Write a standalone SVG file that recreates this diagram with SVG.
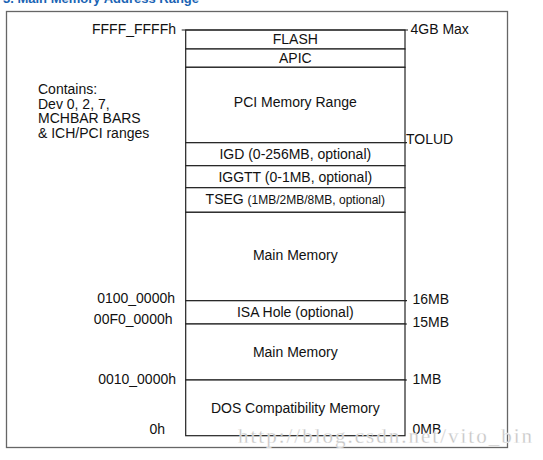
<svg xmlns="http://www.w3.org/2000/svg" width="543" height="460" viewBox="0 0 543 460">
<style>
.t{font-family:"Liberation Sans",Arial,sans-serif;font-size:14px;fill:#111}
.c{text-anchor:middle}
.r{text-anchor:end}
.box{fill:#fff;stroke:#222;stroke-width:1.2}
.ln{stroke:#222;stroke-width:1.2;fill:none}
.frame{fill:#fff;stroke:#666;stroke-width:1.3}
</style>
<rect width="543" height="460" fill="#fff"/>
<text x="3" y="2.5" style="font-family:'Liberation Sans',Arial,sans-serif;font-size:13px;font-weight:bold;fill:#1a64b4">3. Main Memory Address Range</text>
<rect class="frame" x="6.5" y="11.5" width="501" height="436"/>
<g id="left-labels">
<text class="t r" x="176" y="34">FFFF_FFFFh</text>
<text class="t" x="38" y="94">Contains:</text>
<text class="t" x="38" y="108.5">Dev 0, 2, 7,</text>
<text class="t" x="38" y="123">MCHBAR BARS</text>
<text class="t" x="38" y="137.5">&amp; ICH/PCI ranges</text>
<text class="t r" x="175" y="303">0100_0000h</text>
<text class="t r" x="172.5" y="323.5">00F0_0000h</text>
<text class="t r" x="176" y="383.5">0010_0000h</text>
<text class="t r" x="165" y="433.5">0h</text>
</g>
<g id="right-labels">
<text class="t" x="410.5" y="34">4GB Max</text>
<text class="t" x="406" y="144">TOLUD</text>
<text class="t" x="412.5" y="304">16MB</text>
<text class="t" x="412.5" y="327">15MB</text>
<text class="t" x="412.5" y="383.5">1MB</text>
<text class="t" x="412.5" y="433.5">0MB</text>
</g>
<g id="flash"><rect class="box" x="185.7" y="30" width="219.3" height="19"/><text class="t c" x="295.3" y="44">FLASH</text></g>
<g id="apic"><rect class="box" x="185.7" y="49" width="219.3" height="18.3"/><text class="t c" x="295.3" y="62.5">APIC</text></g>
<g id="pci"><rect class="box" x="185.7" y="67.3" width="219.3" height="75.4"/><text class="t c" x="295.3" y="107">PCI Memory Range</text></g>
<g id="igd"><rect class="box" x="185.7" y="142.7" width="219.3" height="23"/><text class="t c" x="295.3" y="159.3">IGD (0-256MB, optional)</text></g>
<g id="iggtt"><rect class="box" x="185.7" y="165.7" width="219.3" height="22"/><text class="t c" x="295.3" y="181.5">IGGTT (0-1MB, optional)</text></g>
<g id="tseg"><rect class="box" x="185.7" y="187.7" width="219.3" height="24.6"/><text class="t c" x="295.3" y="204">TSEG <tspan style="font-size:12px">(1MB/2MB/8MB, optional)</tspan></text></g>
<g id="main-memory-high"><rect class="box" x="185.7" y="212.3" width="219.3" height="88.4"/><text class="t c" x="295.3" y="260">Main Memory</text></g>
<g id="isa-hole"><rect class="box" x="185.7" y="300.7" width="219.3" height="23.3"/><text class="t c" x="295.3" y="316.7">ISA Hole (optional)</text></g>
<g id="main-memory-low"><rect class="box" x="185.7" y="324" width="219.3" height="56"/><text class="t c" x="295.3" y="356.7">Main Memory</text></g>
<g id="dos"><rect class="box" x="185.7" y="380" width="219.3" height="55.7"/><text class="t c" x="295.3" y="412.7">DOS Compatibility Memory</text></g>
<g id="connectors">
<line class="ln" x1="181.7" y1="30" x2="408" y2="30"/>
<line class="ln" x1="405" y1="142.7" x2="407" y2="142.7"/>
<line class="ln" x1="405" y1="300.7" x2="407" y2="300.7"/>
<line class="ln" x1="405" y1="324" x2="407" y2="324"/>
<line class="ln" x1="405" y1="380" x2="407" y2="380"/>
</g>
<text x="238" y="443" textLength="294" lengthAdjust="spacing" style="font-family:'Liberation Serif','Times New Roman',serif;font-size:21px;fill:#c4c4c4;stroke:#fff;stroke-width:0.3">http://blog.csdn.net/vito_bin</text>
</svg>
